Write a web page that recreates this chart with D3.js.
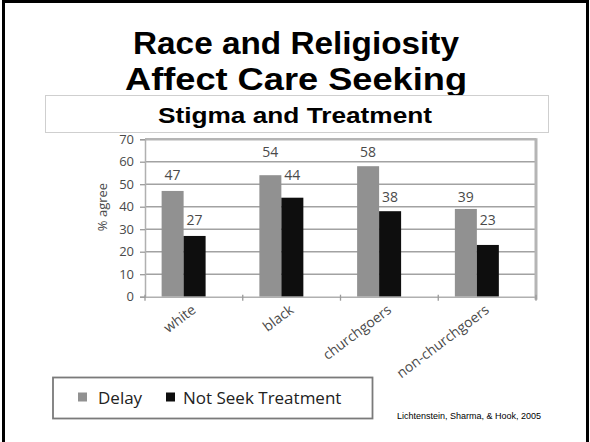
<!DOCTYPE html>
<html>
<head>
<meta charset="utf-8">
<script src="https://cdn.jsdelivr.net/npm/d3@7"></script>
<style>
  html, body { margin: 0; padding: 0; background: #fff; }
  svg { display: block; }
</style>
</head>
<body>
<svg id="chart" width="590" height="442"></svg>
<script>
// Survey results: share agreeing they would delay / not seek treatment
const categories = ["white", "black", "churchgoers", "non-churchgoers"];
const delay = [47, 54, 58, 39];
const notSeek = [27, 44, 38, 23];
const seriesNames = ["Delay", "Not Seek Treatment"];
const yTicks = [0, 10, 20, 30, 40, 50, 60, 70];

const svg = d3.select("#chart");

// slide frame
svg.append("rect")
  .attr("x", 3.5).attr("y", 1.5)
  .attr("width", 584).attr("height", 470)
  .attr("fill", "#fff").attr("stroke", "#000").attr("stroke-width", 3);

// slide title
const titleFont = "'Liberation Sans', Arial, sans-serif";
const titleLines = [
  { text: "Race and Religiosity", y: 54, len: 326 },
  { text: "Affect Care Seeking", y: 89.5, len: 342 }
];
svg.append("g")
  .selectAll("text")
  .data(titleLines)
  .join("text")
  .attr("x", 296).attr("y", d => d.y)
  .attr("text-anchor", "middle")
  .attr("font-family", titleFont)
  .attr("font-weight", "bold")
  .attr("font-size", 31)
  .attr("textLength", d => d.len)
  .attr("lengthAdjust", "spacingAndGlyphs")
  .attr("fill", "#000")
  .text(d => d.text);

// chart title box
svg.append("rect")
  .attr("x", 45.5).attr("y", 95.5).attr("width", 503).attr("height", 37)
  .attr("fill", "#fff").attr("stroke", "#cfcfcf").attr("stroke-width", 1);
svg.append("text")
  .attr("x", 295).attr("y", 123)
  .attr("text-anchor", "middle")
  .attr("font-family", titleFont)
  .attr("font-weight", "bold")
  .attr("font-size", 22)
  .attr("textLength", 274)
  .attr("lengthAdjust", "spacingAndGlyphs")
  .attr("fill", "#000")
  .text("Stigma and Treatment");

// plot area
const plot = { left: 145, right: 536, top: 139.2, bottom: 296.7 };

const x = d3.scaleBand()
  .domain(categories)
  .range([plot.left, plot.right])
  .paddingInner(0).paddingOuter(0);

const y = d3.scaleLinear()
  .domain([0, 70])
  .range([plot.bottom, plot.top]);

const bw = x.bandwidth();
const barStart = 0.17 * bw;   // first bar's offset within its category
const barW = 0.225 * bw;

const labelFont = "'Open Sans', 'DejaVu Sans', sans-serif";
const labelColor = "#4a4a4a";

// horizontal gridlines
svg.append("g")
  .selectAll("line")
  .data(yTicks.slice(1))
  .join("line")
  .attr("x1", plot.left).attr("x2", plot.right)
  .attr("y1", d => y(d)).attr("y2", d => y(d))
  .attr("stroke", d => d === 70 ? "#b5b5b5" : "#a2a2a2")
  .attr("stroke-width", d => d === 70 ? 2.5 : 1.6);

// right edge of the plot area
svg.append("line")
  .attr("x1", plot.right).attr("x2", plot.right)
  .attr("y1", plot.top - 1).attr("y2", plot.bottom + 3)
  .attr("stroke", "#b5b5b5").attr("stroke-width", 3);

// y axis
const yAxis = d3.axisLeft(y).tickValues(yTicks).tickSize(5).tickPadding(6);
const gy = svg.append("g")
  .attr("transform", `translate(${plot.left},0)`)
  .call(yAxis);
gy.select(".domain").attr("stroke", "#b0b0b0").attr("stroke-width", 1.5);
gy.selectAll(".tick line").attr("stroke", "#9a9a9a").attr("stroke-width", 1.3);
gy.selectAll(".tick text")
  .attr("font-family", labelFont).attr("font-size", 13).attr("fill", labelColor);

// y axis title
svg.append("text")
  .attr("transform", `translate(107,207) rotate(-90)`)
  .attr("text-anchor", "middle")
  .attr("font-family", labelFont).attr("font-size", 13).attr("fill", labelColor)
  .text("% agree");

// bars
const groups = svg.append("g")
  .selectAll("g")
  .data(categories.map((c, i) => ({ cat: c, values: [delay[i], notSeek[i]] })))
  .join("g")
  .attr("transform", d => `translate(${x(d.cat)},0)`);

const fills = ["#919191", "#0e0e0e"];

groups.selectAll("rect")
  .data(d => d.values)
  .join("rect")
  .attr("x", (v, j) => barStart + j * barW)
  .attr("y", v => y(v))
  .attr("width", barW)
  .attr("height", v => y(0) - y(v))
  .attr("fill", (v, j) => fills[j]);

// value labels sit just above the next gridline over each bar
groups.selectAll("text")
  .data(d => d.values)
  .join("text")
  .attr("x", (v, j) => barStart + j * barW + barW / 2)
  .attr("y", v => y(Math.ceil(v / 10) * 10) - 4.5)
  .attr("text-anchor", "middle")
  .attr("font-family", labelFont).attr("font-size", 14).attr("fill", labelColor)
  .text(v => v);

// x axis
const xAxis = d3.axisBottom(x).tickSize(0).tickFormat(() => "");
const gx = svg.append("g")
  .attr("transform", `translate(0,${plot.bottom})`)
  .call(xAxis);
gx.select(".domain").attr("stroke", "#b0b0b0").attr("stroke-width", 1.5);
gx.selectAll(".tick").remove();

// category boundary ticks
svg.append("g")
  .selectAll("line")
  .data(categories.map(c => x(c)).concat([plot.right]))
  .join("line")
  .attr("x1", d => d).attr("x2", d => d)
  .attr("y1", plot.bottom - 2).attr("y2", plot.bottom + 4)
  .attr("stroke", "#9a9a9a").attr("stroke-width", 1.3);

// rotated category labels
svg.append("g")
  .selectAll("text")
  .data(categories)
  .join("text")
  .attr("transform", d => `translate(${x(d) + bw / 2 + 3},${plot.bottom + 15}) rotate(-37)`)
  .attr("text-anchor", "end")
  .attr("font-family", labelFont).attr("font-size", 14).attr("fill", labelColor)
  .text(d => d);

// legend
const legend = svg.append("g");
legend.append("rect")
  .attr("x", 53).attr("y", 377.5).attr("width", 319.5).attr("height", 41)
  .attr("fill", "#fff").attr("stroke", "#7a7a7a").attr("stroke-width", 1.8);

const legendItems = [
  { name: seriesNames[0], fill: fills[0], sx: 78, tx: 98 },
  { name: seriesNames[1], fill: fills[1], sx: 166, tx: 183 }
];
legend.selectAll("g.item")
  .data(legendItems)
  .join("g")
  .attr("class", "item")
  .each(function (d) {
    const g = d3.select(this);
    g.append("rect")
      .attr("x", d.sx).attr("y", 392.5).attr("width", 9).attr("height", 9)
      .attr("fill", d.fill);
    g.append("text")
      .attr("x", d.tx).attr("y", 403.5)
      .attr("font-family", labelFont).attr("font-size", 17).attr("fill", "#222")
      .text(d.name);
  });

// source note
svg.append("text")
  .attr("x", 397).attr("y", 419)
  .attr("font-family", titleFont)
  .attr("font-size", 9).attr("fill", "#000")
  .text("Lichtenstein, Sharma, & Hook, 2005");
</script>
</body>
</html>
